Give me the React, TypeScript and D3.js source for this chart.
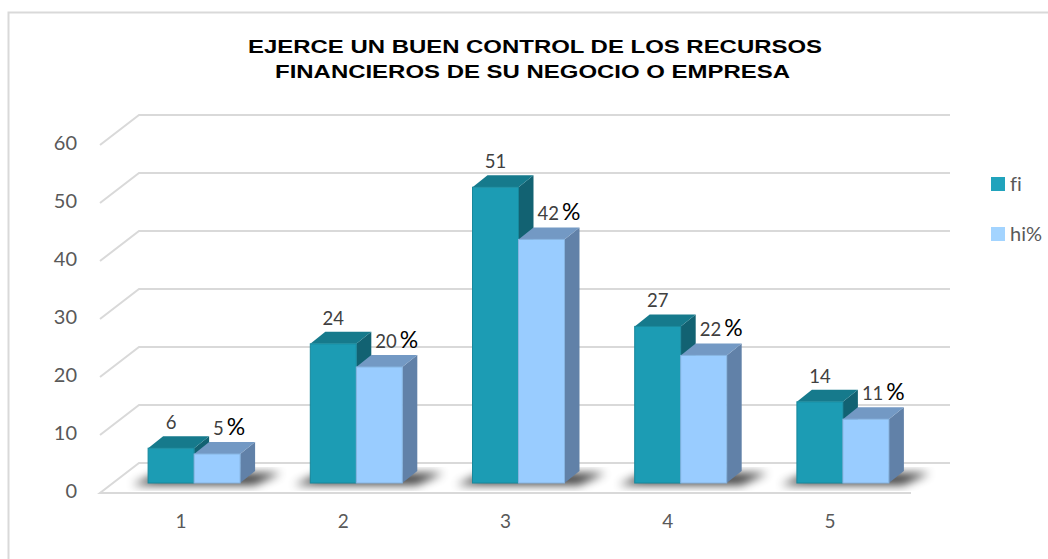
import * as d3 from 'd3';
import React from 'react';

// values
const categories = ['1', '2', '3', '4', '5'];
const fiValues = [6, 24, 51, 27, 14];
const hiValues = [5, 20, 42, 22, 11];
const yTicks = [0, 10, 20, 30, 40, 50, 60];
const seriesNames = ['fi', 'hi%'];
const titleLines = ['EJERCE UN BUEN CONTROL DE LOS RECURSOS', 'FINANCIEROS DE SU NEGOCIO O EMPRESA'];

const W = 1048, H = 559;
// front plane of the floor, and the 3d depth offsets
const frontLeft = 100, frontRight = 911;
const DX = 39, DY = -30;      // full depth of the chart box
const BX = 13, BY = -10;      // where the bar front faces sit
const BDX = 15, BDY = -12;    // depth of a bar

const colors = {
    fi: { front: '#1c9cb4', top: '#167a8c', side: '#126272', stroke: '#17889c' },
    hi: { front: '#99ccff', top: '#7399c4', side: '#6181a8', stroke: '#86b4e0' },
};

const App = () => {
    const x = d3.scaleBand<string>()
        .domain(categories)
        .range([frontLeft, frontRight])
        .paddingInner(0)
        .paddingOuter(0);

    const y = d3.scaleLinear()
        .domain([0, 60])
        .range([493, 145]);

    const groupW = 92;
    const barW = groupW / 2;

    const pts = (p: number[][]) => p.map(d => d.join(',')).join(' ');

    const bar = (x0: number, v: number, c: typeof colors.fi, key: string) => {
        const xl = x0 + BX;
        const xr = xl + barW;
        const yb = y(0) + BY;
        const yt = y(v) + BY;
        return <g key={key}>
            <polygon points={pts([[xr, yb], [xr + BDX, yb + BDY], [xr + BDX, yt + BDY], [xr, yt]])} fill={c.side} />
            <polygon points={pts([[xl, yt], [xl + BDX, yt + BDY], [xr + BDX, yt + BDY], [xr, yt]])} fill={c.top} />
            <rect x={xl} y={yt} width={barW} height={yb - yt} fill={c.front} stroke={c.stroke} strokeWidth={1} />
        </g>;
    };

    const labelFont = 'Lato, "Open Sans", sans-serif';
    const noLig = { fontVariantLigatures: 'none' as const };

    return <svg width={W} height={H} style={{ position: 'absolute', left: 0, top: 0, background: '#fff' }}>
        <defs>
            <filter id="shadowBlur" x="-50%" y="-50%" width="200%" height="200%">
                <feGaussianBlur stdDeviation="5" />
            </filter>
        </defs>
        <rect x={8.5} y={12.5} width={W + 10} height={H + 10} fill="none" stroke="#d9d9d9" strokeWidth={2} />

        {titleLines.map((t, i) =>
            <text key={t} x={i === 0 ? 248 : 275} y={53 + i * 25} fontFamily='"Liberation Sans", Arial, sans-serif'
                fontWeight="bold" fontSize={18.5} fill="#000" textLength={i === 0 ? 574 : 515}
                lengthAdjust="spacingAndGlyphs">{t}</text>
        )}

        {/* gridlines: front-left diagonal then the back wall */}
        {yTicks.filter(t => t > 0).map(t =>
            <polyline key={t} points={pts([[frontLeft, y(t)], [frontLeft + DX, y(t) + DY], [frontRight + DX, y(t) + DY]])}
                fill="none" stroke="#d9d9d9" strokeWidth={2} />
        )}
        {/* floor */}
        <polyline points={pts([[frontRight, y(0)], [frontLeft, y(0)], [frontLeft + DX, y(0) + DY], [frontRight + DX, y(0) + DY]])}
            fill="none" stroke="#d9d9d9" strokeWidth={2} />

        {/* tick labels */}
        {yTicks.map(t =>
            <text key={t} x={77} y={y(t)} textAnchor="end" dominantBaseline="middle" fontFamily={labelFont}
                fontSize={20} fill="#595959">{t}</text>
        )}
        {categories.map(c =>
            <text key={c} x={(x(c) as number) + x.bandwidth() / 2} y={528} textAnchor="middle" fontFamily={labelFont}
                fontSize={19} fill="#595959">{c}</text>
        )}

        {/* bar shadows on the floor */}
        {categories.map(c => {
            const x0 = (x(c) as number) + (x.bandwidth() - groupW) / 2 + BX;
            const yb = y(0) + BY;
            return <polygon key={'s' + c} filter="url(#shadowBlur)" fill="#000" opacity={0.75}
                points={pts([[x0 - 16, yb + 2], [x0 + groupW + 14, yb + 2], [x0 + groupW + BDX + 26, yb + BDY + 2], [x0 + BDX - 4, yb + BDY + 2]])} />;
        })}

        {/* bars */}
        {categories.map((c, i) => {
            const x0 = (x(c) as number) + (x.bandwidth() - groupW) / 2;
            return <g key={c}>
                {bar(x0, fiValues[i], colors.fi, 'fi' + c)}
                {bar(x0 + barW, hiValues[i], colors.hi, 'hi' + c)}
            </g>;
        })}

        {/* data labels */}
        {categories.map((c, i) => {
            const x0 = (x(c) as number) + (x.bandwidth() - groupW) / 2 + BX;
            return <g key={'l' + c} fontFamily={labelFont}>
                <text x={x0 + barW / 2} y={y(fiValues[i]) + BY - 19} textAnchor="middle" fontSize={18.5} fill="#404040">{fiValues[i]}</text>
                <text x={x0 + barW * 1.5 - 4} y={y(hiValues[i]) + BY - 19} fontSize={18.5} fill="#404040">
                    {hiValues[i]}
                    <tspan dx={3} fontSize={23} fill="#000">%</tspan>
                </text>
            </g>;
        })}

        {/* legend */}
        {seriesNames.map((s, i) =>
            <g key={s} transform={`translate(991,${177 + i * 50})`}>
                <rect width={14} height={14} fill={i === 0 ? '#21a3bc' : '#a3d4ff'} />
                <text x={19} y={14} fontFamily={labelFont} fontSize={20} fill="#595959" style={noLig}>{s}</text>
            </g>
        )}
    </svg>;
};

export default App;
